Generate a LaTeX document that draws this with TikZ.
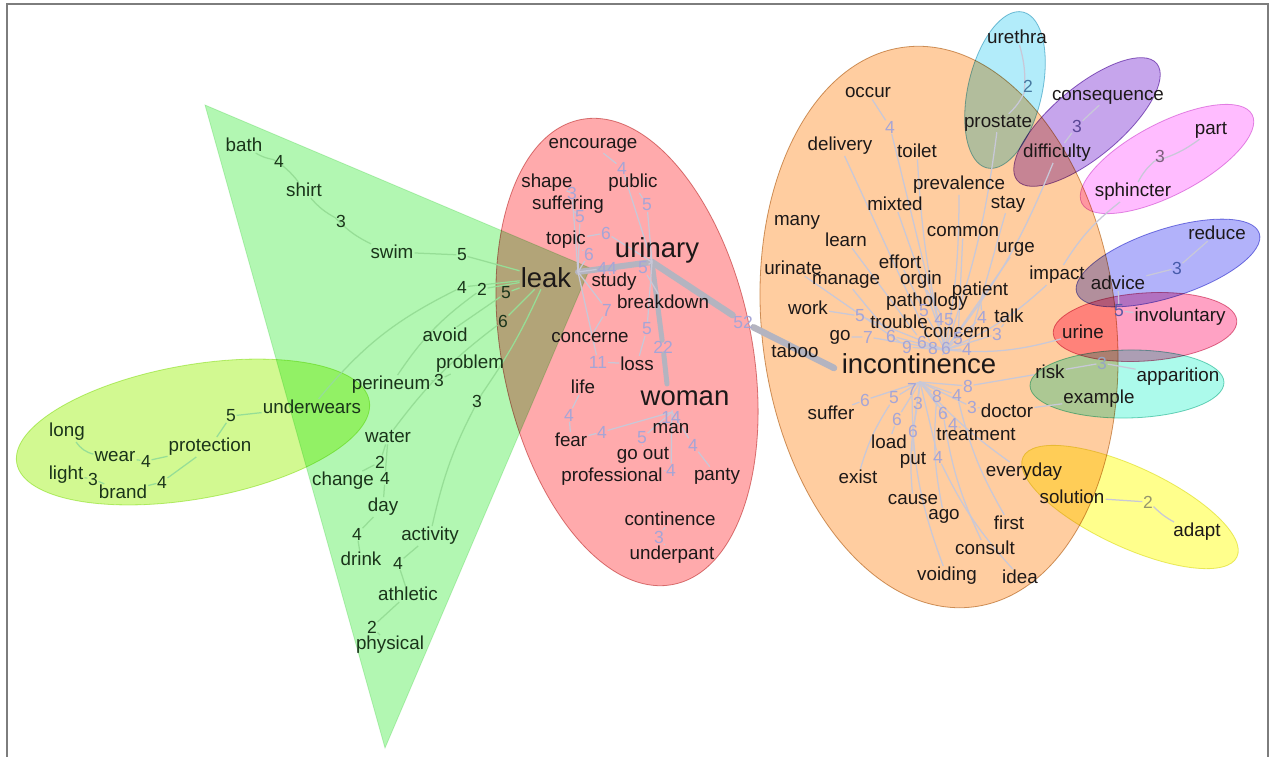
\documentclass[tikz,border=0pt]{standalone}
\usepackage{fontspec}
\setmainfont{Liberation Sans}
\definecolor{txt}{RGB}{28,24,24}
\definecolor{gtxt}{RGB}{26,52,26}
\definecolor{numc}{RGB}{165,165,215}
\definecolor{edgec}{RGB}{200,200,216}
\definecolor{gedge}{RGB}{150,222,150}
\definecolor{thickc}{RGB}{180,180,192}
\definecolor{framec}{RGB}{125,125,125}
\definecolor{trig}{RGB}{178,247,178}
\definecolor{gell}{RGB}{210,249,145}
\definecolor{redell}{RGB}{255,170,172}
\definecolor{orell}{RGB}{255,205,160}
\definecolor{cyell}{RGB}{178,236,250}
\definecolor{puell}{RGB}{198,165,236}
\definecolor{piell}{RGB}{255,188,255}
\definecolor{blell}{RGB}{178,178,250}
\definecolor{rpell}{RGB}{255,162,196}
\definecolor{aqell}{RGB}{172,250,235}
\definecolor{yeell}{RGB}{255,255,140}
\pgfdeclarelayer{bg}
\pgfdeclarelayer{edges}
\pgfsetlayers{bg,edges,main}
\begin{document}
\begin{tikzpicture}[x=1pt,y=-1pt,
  w/.style={font=\fontsize{18.8}{21}\selectfont,text=txt,inner sep=1pt},
  gw/.style={w,text=gtxt},
  bigw/.style={font=\fontsize{27.5}{30}\selectfont,text=txt,inner sep=1pt},
  nm/.style={font=\fontsize{17.5}{19}\selectfont,text=numc,inner sep=0.5pt},
  gn/.style={nm,text=gtxt},
  ed/.style={draw=edgec,line width=1.25pt},
  ged/.style={draw=gedge,line width=1.25pt},
  thickedge/.style={draw=thickc,line cap=round},
  blobline/.style={line width=0.8pt}
]
\useasboundingbox (0,0) rectangle (1275,756);
\begin{pgfonlayer}{bg}
\fill[white] (0,0) rectangle (1275,756);
\begin{scope}[blend mode=multiply]
\fill[trig] (205,105) -- (590,268) -- (385,748) -- cycle;
\draw[blobline,draw={rgb,255:red,205;green,242;blue,205}] (205,105) -- (590,268) -- (385,748) -- cycle;
\filldraw[fill=gell,draw={rgb,255:red,195;green,238;blue,130},blobline,rotate around={10:(193,432)}] (193,432) ellipse [x radius=179pt, y radius=67pt];
\filldraw[fill=redell,draw={rgb,255:red,215;green,135;blue,135},blobline,rotate around={11.3:(627,352)}] (627,352) ellipse [x radius=125pt, y radius=237pt];
\filldraw[fill=orell,draw={rgb,255:red,205;green,160;blue,110},blobline,rotate around={7:(939,327)}] (939,327) ellipse [x radius=177pt, y radius=282pt];
\filldraw[fill=cyell,draw={rgb,255:red,130;green,195;blue,215},blobline,rotate around={-13:(1005,90)}] (1005,90) ellipse [x radius=37pt, y radius=80pt];
\filldraw[fill=puell,draw={rgb,255:red,150;green,105;blue,195},blobline,rotate around={40:(1087,122)}] (1087,122) ellipse [x radius=91pt, y radius=35pt];
\filldraw[fill=piell,draw={rgb,255:red,225;green,150;blue,225},blobline,rotate around={27.5:(1167,159)}] (1167,159) ellipse [x radius=96pt, y radius=36pt];
\filldraw[fill=blell,draw={rgb,255:red,130;green,130;blue,225},blobline,rotate around={18:(1168,263)}] (1168,263) ellipse [x radius=96pt, y radius=34pt];
\filldraw[fill=rpell,draw={rgb,255:red,220;green,120;blue,150},blobline,rotate around={4:(1145,327)}] (1145,327) ellipse [x radius=92pt, y radius=34pt];
\filldraw[fill=aqell,draw={rgb,255:red,120;green,210;blue,190},blobline,rotate around={1:(1127,384)}] (1127,384) ellipse [x radius=97pt, y radius=34pt];
\filldraw[fill=yeell,draw={rgb,255:red,232;green,232;blue,120},blobline,rotate around={-25:(1130,507)}] (1130,507) ellipse [x radius=118pt, y radius=40pt];
\end{scope}
\draw[framec,line width=1.5pt] (7,4) rectangle (1268,790);
\end{pgfonlayer}

% ---------- green group ----------
\node[gw] (bath) at (244,145) {bath};
\node[gn] (g1) at (279,161) {4};
\node[gw] (shirt) at (304,190) {shirt};
\node[gn] (g2) at (341,221) {3};
\node[gw] (swim) at (392,252) {swim};
\node[gn] (g3) at (462,255) {5};
\node[gn] (g4) at (462,287) {4};
\node[gn] (g5) at (482,289) {2};
\node[gn] (g6) at (506,293) {5};
\node[gn] (g7) at (503,321) {6};
\node[gw] (avoid) at (445,335) {avoid};
\node[gw] (problem) at (470,364) {problem};
\node[gw] (perineum) at (391,385) {perineum};
\node[gn] (g8) at (439,380) {3};
\node[gn] (g9) at (477,401) {3};
\node[gw] (underwears) at (312,407) {underwears};
\node[gn] (g10) at (231,416) {5};
\node[gw] (long) at (67,432) {long};
\node[gw] (protection) at (210,447) {protection};
\node[gw] (wear) at (115,457) {wear};
\node[gn] (g11) at (146,461) {4};
\node[gw] (light) at (66,475) {light};
\node[gn] (g12) at (93,479) {3};
\node[gw] (brand) at (123,492) {brand};
\node[gn] (g13) at (162,482) {4};
\node[gw] (water) at (388,437) {water};
\node[gn] (g14) at (380,462) {2};
\node[gw] (change) at (343,481) {change};
\node[gn] (g15) at (385,478) {4};
\node[gw] (day) at (383,507) {day};
\node[gn] (g16) at (357,534) {4};
\node[gw] (activity) at (430,536) {activity};
\node[gw] (drink) at (361,559) {drink};
\node[gn] (g17) at (398,563) {4};
\node[gw] (athletic) at (408,594) {athletic};
\node[gn] (g18) at (372,627) {2};
\node[gw] (physical) at (390,645) {physical};

% ---------- red group ----------
\node[bigw] (leak) at (546,278) {leak};
\node[bigw] (urinary) at (657,250) {urinary};
\node[bigw] (woman) at (685,398) {woman};
\coordinate (lkH) at (578,272);
\coordinate (urH) at (652,262);
\coordinate (woT) at (667,384);
\coordinate (woB) at (672,412);
\node[w] (encourage) at (593,145) {encourage};
\node[nm] (r1) at (622,168) {4};
\node[w] (shape) at (547,183) {shape};
\node[w] (public) at (633,183) {public};
\node[nm] (r2) at (572,193) {3};
\node[w] (suffering) at (568,205) {suffering};
\node[nm] (r3) at (647,205) {5};
\node[nm] (r4) at (580,217) {5};
\node[nm] (r5) at (606,233) {6};
\node[w] (topic) at (566,240) {topic};
\node[nm] (r6) at (589,254) {6};
\node[nm] (r7) at (607,268) {44};
\node[nm] (r8) at (643,268) {5};
\node[w] (study) at (614,282) {study};
\node[w] (breakdown) at (663,302) {breakdown};
\node[nm] (r9) at (607,310) {7};
\node[w] (concerne) at (590,338) {concerne};
\node[nm] (r10) at (647,329) {5};
\node[nm] (r11) at (663,347) {22};
\node[nm] (r12) at (743,322) {52};
\node[nm] (r13) at (598,362) {11};
\node[w] (loss) at (637,364) {loss};
\node[w] (life) at (583,387) {life};
\node[nm] (r14) at (569,415) {4};
\node[nm] (r15) at (671,417) {14};
\node[w] (man) at (671,429) {man};
\node[w] (fear) at (571,440) {fear};
\node[nm] (r16) at (602,432) {4};
\node[nm] (r17) at (642,438) {5};
\node[nm] (r18) at (693,445) {4};
\node[w] (goout) at (643,455) {go out};
\node[w] (professional) at (612,477) {professional};
\node[nm] (r19) at (671,470) {4};
\node[w] (panty) at (717,476) {panty};
\node[w] (continence) at (670,519) {continence};
\node[nm] (r20) at (659,537) {3};
\node[w] (underpant) at (672,555) {underpant};

% ---------- orange group ----------
\node[bigw] (incontinence) at (919,364) {incontinence};
\coordinate (incT) at (945,350);
\coordinate (incB) at (920,382);
\coordinate (incW) at (834,368);
\node[w] (occur) at (868,93) {occur};
\node[nm] (o1) at (890,127) {4};
\node[w] (delivery) at (840,146) {delivery};
\node[w] (toilet) at (917,151) {toilet};
\node[w] (prevalence) at (959,185) {prevalence};
\node[w] (mixted) at (895,204) {mixted};
\node[w] (stay) at (1008,204) {stay};
\node[w] (many) at (797,222) {many};
\node[w] (learn) at (846,240) {learn};
\node[w] (common) at (963,232) {common};
\node[w] (urge) at (1016,249) {urge};
\node[w] (urinate) at (793,268) {urinate};
\node[w] (effort) at (900,262) {effort};
\node[w] (impact) at (1057,275) {impact};
\node[w] (manage) at (846,281) {manage};
\node[w] (orgin) at (921,280) {orgin};
\node[w] (patient) at (980,291) {patient};
\node[w] (pathology) at (927,302) {pathology};
\node[w] (work) at (808,308) {work};
\node[nm] (o2) at (860,316) {5};
\node[nm] (o3) at (924,311) {5};
\node[w] (trouble) at (899,322) {trouble};
\node[nm] (o4) at (944,320) {45};
\node[nm] (o5) at (982,317) {4};
\node[w] (talk) at (1009,316) {talk};
\node[w] (go) at (840,337) {go};
\node[nm] (o6) at (868,337) {7};
\node[nm] (o7) at (891,336) {6};
\node[w] (concern) at (957,333) {concern};
\node[nm] (o8) at (997,334) {3};
\node[w] (taboo) at (795,351) {taboo};
\node[nm] (o9) at (907,347) {9};
\node[nm] (o10) at (922,342) {6};
\node[nm] (o11) at (933,348) {8};
\node[nm] (o12) at (946,348) {6};
\node[nm] (o13) at (958,339) {5};
\node[nm] (o14) at (967,349) {4};
\node[nm] (o15) at (968,386) {8};
\node[nm] (o16) at (865,400) {6};
\node[nm] (o17) at (894,398) {5};
\node[nm] (o18) at (912,389) {7};
\node[nm] (o19) at (918,403) {3};
\node[nm] (o20) at (937,396) {8};
\node[nm] (o21) at (957,395) {4};
\node[nm] (o22) at (972,407) {3};
\node[w] (doctor) at (1007,411) {doctor};
\node[nm] (o23) at (897,419) {6};
\node[nm] (o24) at (943,413) {6};
\node[nm] (o25) at (953,424) {4};
\node[nm] (o26) at (913,431) {6};
\node[w] (suffer) at (831,413) {suffer};
\node[w] (load) at (889,442) {load};
\node[w] (treatment) at (976,435) {treatment};
\node[nm] (o27) at (938,457) {4};
\node[w] (put) at (913,460) {put};
\node[w] (exist) at (858,477) {exist};
\node[w] (everyday) at (1024,472) {everyday};
\node[w] (cause) at (913,500) {cause};
\node[w] (ago) at (944,516) {ago};
\node[w] (first) at (1009,523) {first};
\node[w] (consult) at (985,548) {consult};
\node[w] (voiding) at (947,576) {voiding};
\node[w] (idea) at (1020,577) {idea};

% ---------- side groups ----------
\node[w] (urethra) at (1017,37) {urethra};
\node[nm,text={rgb,255:red,70;green,120;blue,160}] (s1) at (1028,86) {2};
\node[w] (prostate) at (998,123) {prostate};
\node[w] (consequence) at (1108,97) {consequence};
\node[nm,text={rgb,255:red,90;green,70;blue,150}] (s2) at (1077,126) {3};
\node[w] (difficulty) at (1057,153) {difficulty};
\node[w] (part) at (1211,130) {part};
\node[nm,text={rgb,255:red,125;green,95;blue,125}] (s3) at (1160,156) {3};
\node[w] (sphincter) at (1133,192) {sphincter};
\node[w] (reduce) at (1217,233) {reduce};
\node[nm,text={rgb,255:red,70;green,90;blue,170}] (s4) at (1177,268) {3};
\node[w] (advice) at (1118,283) {advice};
\node[nm,text={rgb,255:red,90;green,90;blue,165}] (s5) at (1119,311) {5};
\node[w] (involuntary) at (1180,317) {involuntary};
\node[w] (urine) at (1083,332) {urine};
\node[nm,text={rgb,255:red,150;green,165;blue,195}] (s6) at (1102,363) {3};
\node[w] (risk) at (1050,372) {risk};
\node[w] (apparition) at (1178,377) {apparition};
\node[w] (example) at (1099,399) {example};
\node[w] (solution) at (1072,497) {solution};
\node[nm,text={rgb,255:red,150;green,150;blue,110}] (s7) at (1148,502) {2};
\node[w] (adapt) at (1197,532) {adapt};

% ---------- edges ----------
\begin{pgfonlayer}{edges}
% green
\draw[ged] (bath) to[bend right=10] (g1) to[bend left=10] (shirt);
\draw[ged] (shirt) to[bend right=10] (g2) to[bend right=10] (swim);
\draw[ged] (swim) -- (g3) -- (leak);
\draw[ged] (leak) -- (g4) to[bend right=12] (underwears);
\draw[ged] (leak) -- (g5) to[bend right=10] (perineum);
\draw[ged] (leak) -- (g6) -- (avoid);
\draw[ged] (leak) -- (g7) to[bend right=8] (water);
\draw[ged] (problem) -- (g8) -- (perineum);
\draw[ged] (leak) to[bend left=5] (g9) to[bend right=8] (activity);
\draw[ged] (water) -- (g14) -- (change);
\draw[ged] (water) -- (g15) -- (day);
\draw[ged] (day) -- (g16) -- (drink);
\draw[ged] (activity) -- (g17) -- (athletic);
\draw[ged] (athletic) -- (g18) -- (physical);
\draw[ged] (underwears) -- (g10) -- (protection);
\draw[ged] (long) to[bend right=20] (wear);
\draw[ged] (wear) -- (g11) -- (protection);
\draw[ged] (light) -- (g12) -- (brand);
\draw[ged] (brand) -- (g13) -- (protection);
% red
\draw[thickedge,line width=6pt] (lkH) -- (urH);
\draw[thickedge,line width=5pt] (urH) -- (r11) -- (woT);
\draw[thickedge,line width=6.5pt] (urH) -- (r12) -- (incW);
\draw[ed] (urH) -- (r1) -- (encourage);
\draw[ed] (urH) -- (r3) -- (public);
\draw[ed] (lkH) -- (r2) -- (shape);
\draw[ed] (lkH) -- (r4) -- (suffering);
\draw[ed] (urH) -- (r5) -- (topic);
\draw[ed] (lkH) -- (r6) -- (topic);
\draw[ed] (lkH) -- (r7) -- (study);
\draw[ed] (urH) -- (r8) -- (breakdown);
\draw[ed] (lkH) -- (r9) -- (concerne);
\draw[ed] (urH) -- (r10) -- (loss);
\draw[ed] (lkH) -- (r13) -- (loss);
\draw[ed] (life) -- (r14) -- (fear);
\draw[ed] (woB) -- (r16) -- (fear);
\draw[ed] (woB) -- (r15) -- (man);
\draw[ed] (woB) -- (r17) -- (goout);
\draw[ed] (woB) -- (r18) -- (panty);
\draw[ed] (woB) -- (r19) -- (professional);
\draw[ed] (continence) -- (r20) -- (underpant);
% orange, upper
\draw[ed] (incT) -- (o1) -- (occur);
\draw[ed] (incT) -- (o2) -- (work);
\draw[ed] (incT) -- (o3) -- (effort);
\draw[ed] (incT) -- (o4) -- (orgin);
\draw[ed] (incT) -- (o5) -- (patient);
\draw[ed] (incT) -- (o8) -- (talk);
\draw[ed] (incT) -- (o6) -- (go);
\draw[ed] (incT) -- (o7) -- (manage);
\draw[ed] (incT) -- (o9) -- (urinate);
\draw[ed] (incT) -- (o10) -- (learn);
\draw[ed] (incT) -- (o11) -- (delivery);
\draw[ed] (incT) -- (o12) -- (mixted);
\draw[ed] (incT) -- (o13) -- (common);
\draw[ed] (incT) -- (o14) -- (stay);
\draw[ed] (incT) to[bend left=5] (toilet);
\draw[ed] (incT) to[bend right=5] (prevalence);
\draw[ed] (incT) to[bend right=6] (prostate);
\draw[ed] (incT) -- (urge);
\draw[ed] (incT) to[bend right=8] (difficulty);
\draw[ed] (incT) to[bend right=10] (impact);
\draw[ed] (incT) to[bend right=10] (urine);
% orange, lower
\draw[ed] (incB) -- (o16) -- (suffer);
\draw[ed] (incB) -- (o17) to[bend right=8] (exist);
\draw[ed] (incB) -- (o18) to[bend right=10] (voiding);
\draw[ed] (incB) -- (o23) -- (load);
\draw[ed] (incB) -- (o19) to[bend right=8] (cause);
\draw[ed] (incB) -- (o26) -- (put);
\draw[ed] (incB) -- (o20) to[bend right=8] (ago);
\draw[ed] (incB) -- (o24) to[bend right=8] (consult);
\draw[ed] (incB) -- (o21) to[bend right=8] (first);
\draw[ed] (incB) -- (o25) -- (treatment);
\draw[ed] (incB) -- (o27) to[bend right=8] (idea);
\draw[ed] (incB) -- (o22) -- (doctor);
\draw[ed] (incB) -- (o15) -- (risk);
\draw[ed] (incB) to[bend right=6] (everyday);
\draw[ed] (doctor) -- (example);
% side groups
\draw[ed] (prostate) to[bend right=10] (s1) to[bend right=10] (urethra);
\draw[ed] (difficulty) -- (s2) -- (consequence);
\draw[ed] (sphincter) to[bend left=10] (s3) to[bend right=10] (part);
\draw[ed] (advice) -- (s4) -- (reduce);
\draw[ed] (advice) -- (s5) -- (involuntary);
\draw[ed] (risk) -- (s6) -- (apparition);
\draw[ed] (solution) -- (s7) to[bend right=8] (adapt);
\draw[ed] (sphincter) to[bend right=10] (impact);
\end{pgfonlayer}
\end{tikzpicture}
\end{document}
